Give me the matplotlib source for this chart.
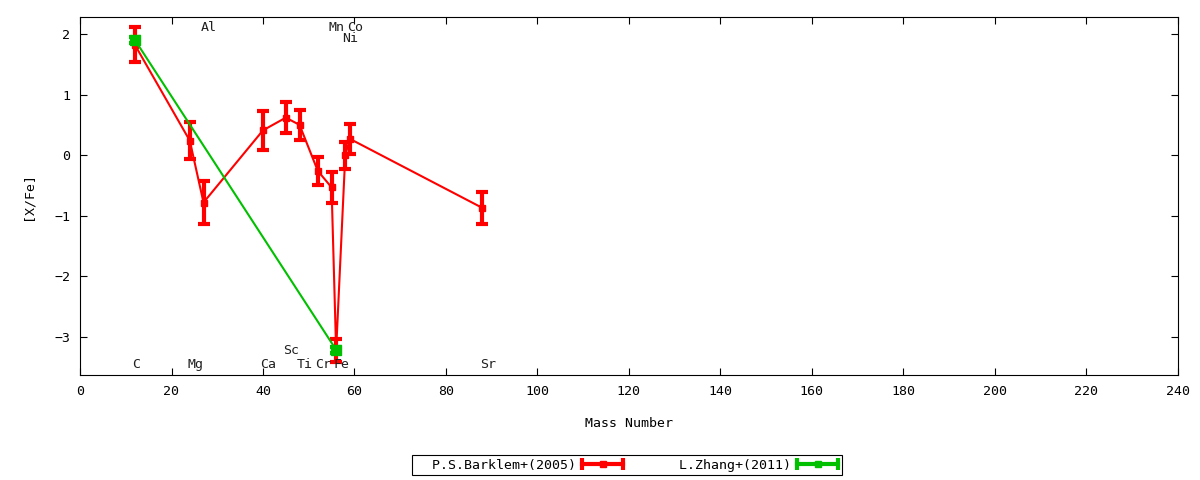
import matplotlib
matplotlib.use("Agg")
import matplotlib.pyplot as plt
from matplotlib.legend_handler import HandlerBase
from matplotlib.lines import Line2D

plt.rcParams['font.family'] = ['DejaVu Sans Mono']
plt.rcParams['font.size'] = 9.5

# P.S.Barklem+(2005)
barklem_mass = [12, 24, 27, 40, 45, 48, 52, 55, 56, 58, 59, 88]
barklem_xfe = [1.82, 0.24, -0.78, 0.41, 0.62, 0.50, -0.26, -0.53, -3.22, 0.00, 0.27, -0.87]
barklem_err = [0.29, 0.30, 0.35, 0.32, 0.26, 0.25, 0.23, 0.26, 0.19, 0.22, 0.25, 0.27]

# L.Zhang+(2011)
zhang_mass = [12, 56]
zhang_xfe = [1.90, -3.21]
zhang_err = [0.05, 0.05]

# element labels (mass, y position)
elem_names = ["C", "Mg", "Al", "Ca", "Sc", "Ti", "Cr", "Mn", "Fe", "Co", "Ni", "Sr"]
elem_mass = [12, 24, 27, 40, 45, 48, 52, 55, 56, 59, 58, 88]
elem_y = [-3.45, -3.45, 2.10, -3.45, -3.22, -3.45, -3.45, 2.10, -3.45, 2.10, 1.93, -3.45]

RED = "#ff0000"
GREEN = "#00c000"


class ErrHandler(HandlerBase):
    # gnuplot style key sample: line with caps at both ends and a point in the middle
    def create_artists(self, legend, orig, xd, yd, w, h, fontsize, trans):
        col = orig[0].get_color()
        y = h / 2 - yd
        x0, x1 = -xd, -xd + w
        line = Line2D([x0, x1], [y, y], color=col, lw=3)
        caps = Line2D([x0, x1], [y, y], ls="", marker="|", ms=9, mew=3, color=col)
        mid = Line2D([(x0 + x1) / 2], [y], ls="", marker="s", ms=5, color=col)
        for a in (line, caps, mid):
            a.set_transform(trans)
        return [line, caps, mid]


fig = plt.figure(figsize=(12, 4.8), dpi=100)
ax = fig.add_axes([0.0667, 0.2188, 0.9146, 0.7458])

eb1 = ax.errorbar(barklem_mass, barklem_xfe, yerr=barklem_err, color=RED, lw=1.5,
                  elinewidth=3, capsize=4, capthick=3, marker="s", ms=4)
eb2 = ax.errorbar(zhang_mass, zhang_xfe, yerr=zhang_err, color=GREEN, lw=1.5,
                  elinewidth=3, capsize=4, capthick=3, marker="s", ms=7)

for name, m, y in zip(elem_names, elem_mass, elem_y):
    ax.text(m - 0.6, y, name, ha="left", va="center", color="#202020")

ax.set_xlim(0, 240)
ax.set_ylim(-3.625, 2.28)
ax.set_xticks(range(0, 241, 20))
ax.set_yticks([-3, -2, -1, 0, 1, 2])
ax.tick_params(direction="in", top=True, right=True, length=5, width=0.8, pad=7)
ax.set_xlabel("Mass Number", labelpad=14)
ax.set_ylabel("[X/Fe]", labelpad=14)

leg = fig.legend(handles=[eb1, eb2], labels=["  P.S.Barklem+(2005)", "  L.Zhang+(2011)"],
                 loc="center", bbox_to_anchor=(0.5225, 0.031), ncol=2,
                 markerfirst=False, handlelength=3.1, handletextpad=0.5,
                 columnspacing=3.0,
                 handler_map={type(eb1): ErrHandler()},
                 fancybox=False, framealpha=1, borderpad=0.25)
leg.get_frame().set_edgecolor("black")
leg.get_frame().set_linewidth(0.8)

fig.savefig("out.png", dpi=100)
